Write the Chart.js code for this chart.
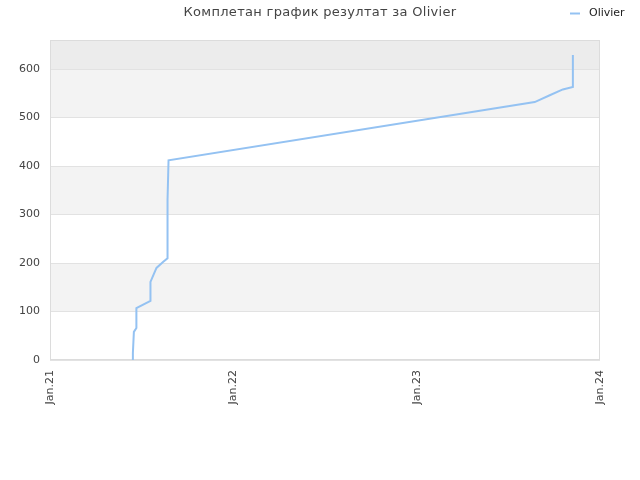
<!DOCTYPE html>
<html>
<head>
<meta charset="utf-8">
<script src="https://cdn.jsdelivr.net/npm/chart.js"></script>
<style>
  html, body { margin: 0; padding: 0; background: #fff; }
  #c { display: block; }
</style>
</head>
<body>
<canvas id="c" width="640" height="480"></canvas>
<script>
// Score history for Olivier (dates and cumulative score)
const seriesLabel = 'Olivier';
const titleText = 'Комплетан график резултат за Olivier';
const dates = [
  '2021-06-14', '2021-06-15', '2021-06-17', '2021-06-22', '2021-06-22',
  '2021-07-20', '2021-07-20', '2021-08-01', '2021-08-14', '2021-08-23',
  '2021-08-23', '2021-08-25', '2023-08-24', '2023-09-23', '2023-10-19',
  '2023-11-08', '2023-11-08'
];
const scores = [0, 14, 58, 66, 107, 122, 161, 190, 202, 210, 330, 412, 532, 546, 558, 563, 629];
const xTickDates = ['2021-01-01', '2022-01-01', '2023-01-01', '2024-01-01'];
const xTickLabels = ['Jan.21', 'Jan.22', 'Jan.23', 'Jan.24'];
const yTicks = [0, 100, 200, 300, 400, 500, 600];
const yMax = 660;

const toMs = s => { const [y, m, d] = s.split('-').map(Number); return Date.UTC(y, m - 1, d); };
const points = dates.map((d, i) => ({ x: toMs(d), y: scores[i] }));
const xTickValues = xTickDates.map(toMs);

const FONT = 'DejaVu Sans';

// Alternating horizontal bands and a light frame around the plot area
const bandsPlugin = {
  id: 'bands',
  beforeDraw(chart) {
    const { ctx, chartArea: a, scales: { y } } = chart;
    const bands = [
      [0, 100, '#ffffff'], [100, 200, '#f3f3f3'], [200, 300, '#ffffff'],
      [300, 400, '#f3f3f3'], [400, 500, '#ffffff'], [500, 600, '#f3f3f3'],
      [600, yMax, '#ececec']
    ];
    ctx.save();
    bands.forEach(([lo, hi, col]) => {
      const top = y.getPixelForValue(hi), bot = y.getPixelForValue(lo);
      ctx.fillStyle = col;
      ctx.fillRect(a.left, top, a.right - a.left, bot - top);
    });
    ctx.restore();
  },
  beforeDatasetsDraw(chart) {
    const { ctx, chartArea: a } = chart;
    ctx.save();
    ctx.strokeStyle = '#dcdcdc';
    ctx.lineWidth = 1;
    ctx.strokeRect(Math.round(a.left) + 0.5, Math.round(a.top) + 0.5,
                   Math.round(a.right - a.left) - 1, Math.round(a.bottom - a.top) - 1);
    ctx.restore();
  }
};

// Title centred on the page, and a small legend at the top right
const headerPlugin = {
  id: 'header',
  afterDraw(chart) {
    const { ctx } = chart;
    const ds = chart.data.datasets[0];
    ctx.save();
    ctx.fillStyle = '#444';
    ctx.font = '13px "' + FONT + '"';
    ctx.letterSpacing = '0.3px';
    ctx.textBaseline = 'middle';
    ctx.textAlign = 'center';
    ctx.fillText(titleText, chart.width / 2, 12.5);
    ctx.letterSpacing = '0px';

    ctx.strokeStyle = ds.borderColor;
    ctx.lineWidth = 2;
    ctx.beginPath();
    ctx.moveTo(570, 13.5);
    ctx.lineTo(580, 13.5);
    ctx.stroke();
    ctx.fillStyle = '#222';
    ctx.font = '11px "' + FONT + '"';
    ctx.textAlign = 'left';
    ctx.fillText(ds.label, 589, 13);
    ctx.restore();
  }
};

new Chart(document.getElementById('c'), {
  type: 'line',
  data: {
    datasets: [{
      label: seriesLabel,
      data: points,
      borderColor: 'rgb(148,194,242)',
      borderWidth: 2,
      pointRadius: 0,
      tension: 0,
      fill: false
    }]
  },
  options: {
    responsive: false,
    animation: false,
    layout: { padding: { left: 0, right: 40, top: 40, bottom: 0 } },
    plugins: {
      legend: { display: false },
      tooltip: { enabled: false },
      title: { display: false }
    },
    scales: {
      x: {
        type: 'linear',
        min: xTickValues[0],
        max: xTickValues[xTickValues.length - 1],
        afterBuildTicks(scale) { scale.ticks = xTickValues.map(v => ({ value: v })); },
        afterFit(scale) { scale.height = 120; },
        grid: { display: false, drawTicks: false },
        border: { display: false },
        ticks: {
          color: '#444',
          font: { family: FONT, size: 11 },
          minRotation: 90,
          maxRotation: 90,
          padding: 10,
          autoSkip: false,
          callback(v) { const i = xTickValues.indexOf(v); return i >= 0 ? xTickLabels[i] : ''; }
        }
      },
      y: {
        min: 0,
        max: yMax,
        afterBuildTicks(scale) { scale.ticks = yTicks.map(v => ({ value: v })); },
        afterFit(scale) { scale.width = 50; },
        grid: { color: '#e2e2e2', drawTicks: false },
        border: { display: false },
        ticks: {
          color: '#444',
          font: { family: FONT, size: 11 },
          padding: 10
        }
      }
    }
  },
  plugins: [bandsPlugin, headerPlugin]
});
</script>
</body>
</html>
